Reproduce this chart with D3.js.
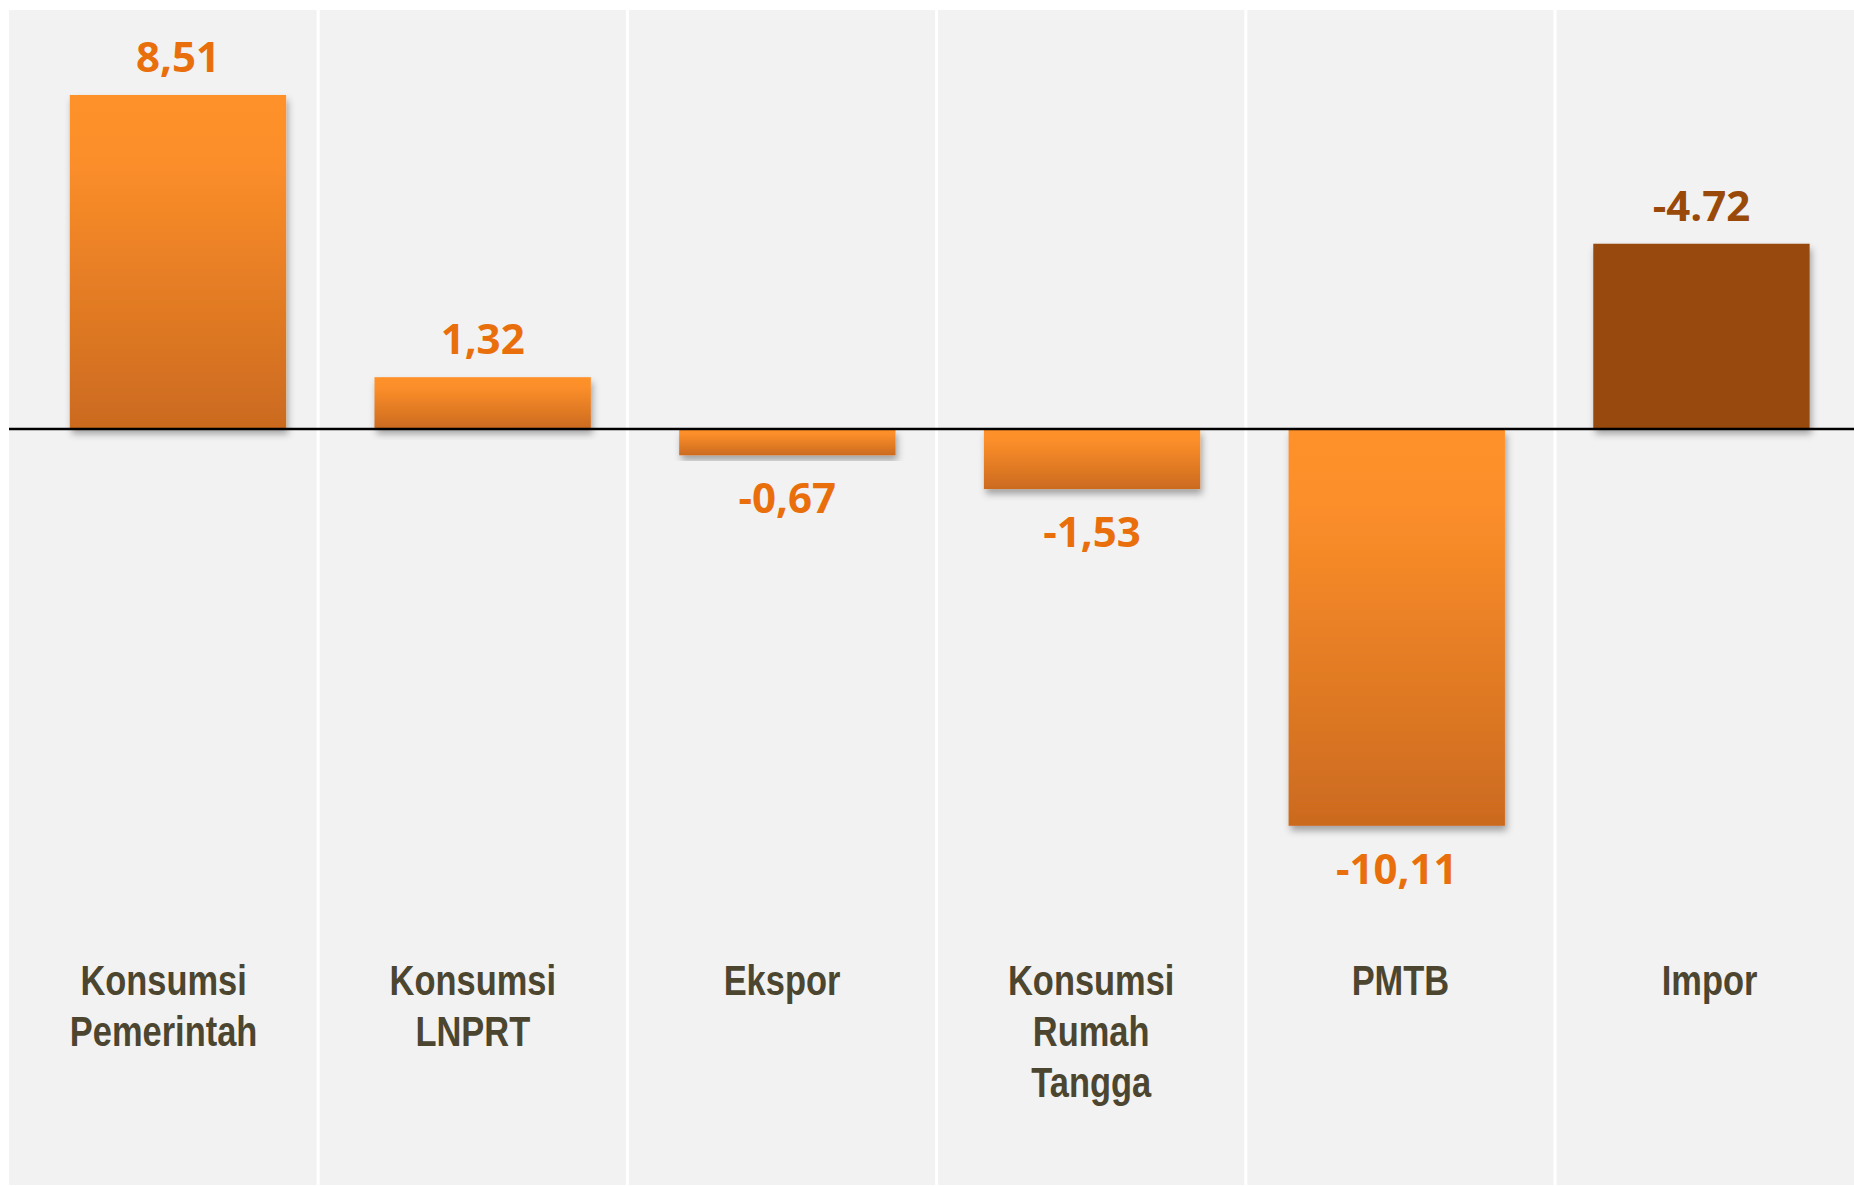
<!DOCTYPE html>
<html>
<head>
<meta charset="utf-8">
<script src="https://cdn.jsdelivr.net/npm/d3@7"></script>
<style>
  html, body { margin: 0; padding: 0; background: #ffffff; }
  svg { display: block; }
</style>
</head>
<body>
<svg id="chart"></svg>
<script>
// chart data
const categories = ["Konsumsi Pemerintah", "Konsumsi LNPRT", "Ekspor", "Konsumsi Rumah Tangga", "PMTB", "Impor"];
const categoryLines = [["Konsumsi", "Pemerintah"], ["Konsumsi", "LNPRT"], ["Ekspor"], ["Konsumsi", "Rumah", "Tangga"], ["PMTB"], ["Impor"]];
const values = [8.51, 1.32, -0.67, -1.53, -10.11, 4.72];
const valueLabels = ["8,51", "1,32", "-0,67", "-1,53", "-10,11", "-4.72"];
const highlighted = ["Impor"];

const width = 1854, height = 1186;

const svg = d3.select("#chart").attr("width", width).attr("height", height);
const defs = svg.append("defs");

const grad = defs.append("linearGradient")
  .attr("id", "barGrad")
  .attr("x1", 0).attr("y1", 0).attr("x2", 0).attr("y2", 1);
grad.append("stop").attr("offset", "0%").attr("stop-color", "#ff912a");
grad.append("stop").attr("offset", "18%").attr("stop-color", "#fd8f2a");
grad.append("stop").attr("offset", "100%").attr("stop-color", "#cb6a1f");

const shadow = defs.append("filter").attr("id", "shadow")
  .attr("x", "-10%").attr("y", "-10%").attr("width", "130%").attr("height", "130%");
shadow.append("feDropShadow")
  .attr("dx", 2).attr("dy", 5).attr("stdDeviation", 3.5)
  .attr("flood-color", "#000").attr("flood-opacity", 0.33);

// background panels
const plotLeft = 9, plotTop = 10;
const panelX = d3.scaleBand().domain(categories).range([plotLeft, plotLeft + 6 * 309.2]).padding(0);

svg.append("rect")
  .attr("x", plotLeft).attr("y", plotTop)
  .attr("width", width - plotLeft).attr("height", height - plotTop - 1)
  .attr("fill", "#f2f2f2");

svg.append("g").selectAll("line")
  .data(categories.slice(1))
  .join("line")
  .attr("x1", d => panelX(d)).attr("x2", d => panelX(d))
  .attr("y1", plotTop).attr("y2", height)
  .attr("stroke", "#ffffff").attr("stroke-width", 3);

// scales for bars
const x = d3.scaleBand().domain(categories)
  .range([25.6, 25.6 + 6 * 304.7])
  .paddingInner(0.29).paddingOuter(0.145);

const y = d3.scaleLinear().domain([-12, 10]).range([900, 36.5]);

const data = categories.map((c, i) => ({ name: c, value: values[i], label: valueLabels[i], lines: categoryLines[i] }));

svg.append("g").selectAll("rect")
  .data(data)
  .join("rect")
  .attr("x", d => x(d.name))
  .attr("width", x.bandwidth())
  .attr("y", d => y(Math.max(0, d.value)))
  .attr("height", d => Math.abs(y(d.value) - y(0)))
  .attr("fill", d => highlighted.includes(d.name) ? "#984907" : "url(#barGrad)")
  .attr("filter", "url(#shadow)");

// zero line
svg.append("line")
  .attr("x1", plotLeft).attr("x2", width)
  .attr("y1", y(0)).attr("y2", y(0))
  .attr("stroke", "#000").attr("stroke-width", 2.5);

// value labels
svg.append("g").selectAll("text")
  .data(data)
  .join("text")
  .attr("x", d => x(d.name) + x.bandwidth() / 2)
  .attr("y", d => d.value >= 0 ? y(d.value) - 23 : y(d.value) + 58)
  .attr("text-anchor", "middle")
  .attr("font-family", "'Open Sans', sans-serif")
  .attr("font-weight", 700)
  .attr("font-size", 42)
  .attr("fill", d => highlighted.includes(d.name) ? "#994a0a" : "#e96f0d")
  .text(d => d.label);

// category labels (narrow bold)
const catGroups = svg.append("g").selectAll("g")
  .data(data)
  .join("g")
  .attr("transform", d => `translate(${panelX(d.name) + panelX.bandwidth() / 2},995) scale(0.82,1)`);

catGroups.append("text")
  .attr("text-anchor", "middle")
  .attr("font-family", "'Liberation Sans', Arial, sans-serif")
  .attr("font-weight", 700)
  .attr("font-size", 42)
  .attr("fill", "#4c4630")
  .selectAll("tspan")
  .data(d => d.lines)
  .join("tspan")
  .attr("x", 0)
  .attr("y", (d, i) => i * 51)
  .text(d => d);
</script>
</body>
</html>
